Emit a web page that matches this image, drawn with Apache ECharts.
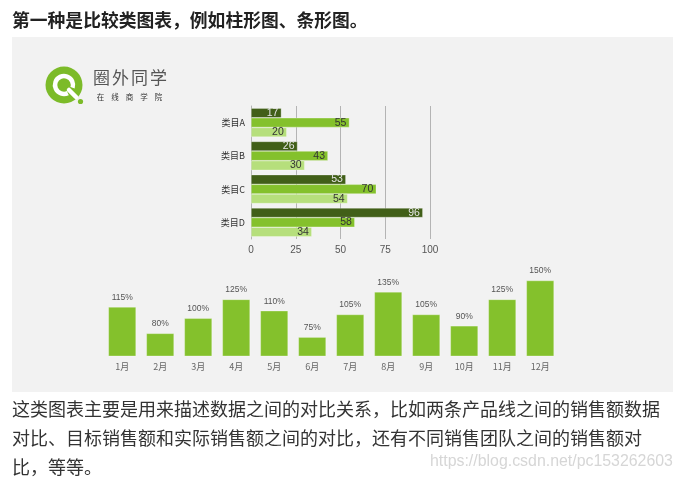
<!DOCTYPE html>
<html>
<head>
<meta charset="utf-8">
<script src="https://cdn.jsdelivr.net/npm/echarts@6/dist/echarts.min.js"></script>
<style>
html,body{margin:0;padding:0;background:#fff;}
#c{width:681px;height:481px;}
</style>
</head>
<body>
<div id="c"></div>
<script>
// ---- data ----
const hCategories = ['类目A', '类目B', '类目C', '类目D'];
const hSeriesDark = [17, 26, 53, 96];
const hSeriesMid = [55, 43, 70, 58];
const hSeriesLight = [20, 30, 54, 34];
const hTickMin = 0, hTickMax = 100, hTickStep = 25;
const months = ['1月','2月','3月','4月','5月','6月','7月','8月','9月','10月','11月','12月'];
const monthRates = [115, 80, 100, 125, 110, 75, 105, 135, 105, 90, 125, 150];
const headingText = '第一种是比较类图表，例如柱形图、条形图。';
const paragraphLines = [
  '这类图表主要是用来描述数据之间的对比关系，比如两条产品线之间的销售额数据',
  '对比、目标销售额和实际销售额之间的对比，还有不同销售团队之间的销售额对',
  '比，等等。'
];
const logoTitle = '圈外同学';
const logoSub = '在线商学院';
const watermark = 'https://blog.csdn.net/pc153262603';

const CJK = '"Noto Sans CJK SC", "Noto Sans", sans-serif';
const NUM = '"Liberation Sans", "Noto Sans", sans-serif';
const chart = echarts.init(document.getElementById('c'));

const graphics = [];
graphics.push({type:'rect', z:-10, shape:{x:12, y:37, width:661, height:355}, style:{fill:'#f2f2f2'}, silent:true});
graphics.push({type:'text', x:12, y:20, style:{text:headingText, font:'bold 17.8px ' + CJK, fill:'#222', verticalAlign:'middle'}});
paragraphLines.forEach((t, i) => {
  graphics.push({type:'text', x:12, y:409 + i * 29, style:{text:t, font:'18px ' + CJK, fill:'#333', verticalAlign:'middle'}});
});
graphics.push({type:'text', x:430, y:462, style:{text:watermark, font:'15.9px ' + NUM, fill:'#d6d6d6', verticalAlign:'middle'}});
// logo
graphics.push({type:'circle', shape:{cx:64, cy:85, r:18.5}, style:{fill:'#7cbb29'}});
graphics.push({type:'arc', shape:{cx:64, cy:85, r:9, startAngle:Math.PI*0.36, endAngle:Math.PI*2.1, clockwise:true}, style:{stroke:'#fff', lineWidth:4.5, fill:null}});
graphics.push({type:'line', shape:{x1:69, y1:90, x2:76, y2:97}, style:{stroke:'#fff', lineWidth:4.5, lineCap:'round'}});
graphics.push({type:'circle', shape:{cx:80.5, cy:101.5, r:2.6}, style:{fill:'#7cbb29'}});
logoTitle.split('').forEach((ch, i) => {
  graphics.push({type:'text', x:101.5 + i * 19, y:78, style:{text:ch, font:'17px ' + CJK, fill:'#555', align:'center', verticalAlign:'middle'}});
});
logoSub.split('').forEach((ch, i) => {
  graphics.push({type:'text', x:100.5 + i * 14.5, y:97.5, style:{text:ch, font:'7.5px ' + CJK, fill:'#333', align:'center', verticalAlign:'middle'}});
});

function hLabel(color) {
  return {show:true, position:'insideRight', distance:3, color:color, fontSize:10.5, fontFamily:NUM};
}

const option = {
  animation: false,
  backgroundColor: '#fff',
  graphic: graphics,
  grid: [
    {left:251, width:179, top:106, height:133},
    {left:103.2, width:456, top:280.5, height:75.5}
  ],
  xAxis: [
    {gridIndex:0, type:'value', min:hTickMin, max:hTickMax, interval:hTickStep,
     axisLine:{show:false}, axisTick:{show:false},
     splitLine:{lineStyle:{color:'#b4b4b4', width:1}},
     axisLabel:{color:'#555', fontSize:10, fontFamily:NUM, margin:6}},
    {gridIndex:1, type:'category', data:months,
     axisLine:{show:false}, axisTick:{show:false},
     axisLabel:{color:'#666', fontSize:9, fontFamily:CJK, margin:6}}
  ],
  yAxis: [
    {gridIndex:0, type:'category', data:hCategories, inverse:true,
     axisLine:{show:true, lineStyle:{color:'#b4b4b4'}}, axisTick:{show:false},
     axisLabel:{color:'#333', fontSize:9, fontFamily:CJK, margin:6}},
    {gridIndex:1, type:'value', min:50, max:150, show:false, splitLine:{show:false}}
  ],
  series: [
    {type:'bar', xAxisIndex:0, yAxisIndex:0, data:hSeriesDark, barGap:'0%', barCategoryGap:'13%',
     itemStyle:{color:'#415f18', borderColor:'rgba(255,255,255,0.5)', borderWidth:0.6}, label:hLabel('#e6e6e6')},
    {type:'bar', xAxisIndex:0, yAxisIndex:0, data:hSeriesMid, barGap:'0%', barCategoryGap:'13%',
     itemStyle:{color:'#84c12c', borderColor:'rgba(255,255,255,0.5)', borderWidth:0.6}, label:hLabel('#333')},
    {type:'bar', xAxisIndex:0, yAxisIndex:0, data:hSeriesLight, barGap:'0%', barCategoryGap:'13%',
     itemStyle:{color:'#b6df7c', borderColor:'rgba(255,255,255,0.5)', borderWidth:0.6}, label:hLabel('#333')},
    {type:'bar', xAxisIndex:1, yAxisIndex:1, data:monthRates, barCategoryGap:'27%',
     itemStyle:{color:'#84c12c', borderColor:'rgba(255,255,255,0.5)', borderWidth:0.6},
     label:{show:true, position:'top', distance:5, formatter:'{c}%', color:'#555', fontSize:8.5, fontFamily:NUM}}
  ]
};
chart.setOption(option);
</script>
</body>
</html>
